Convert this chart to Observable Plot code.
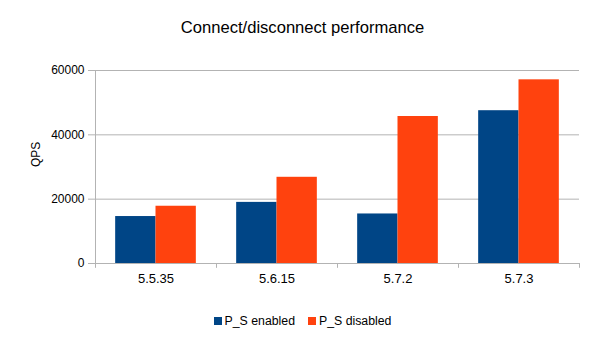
<!DOCTYPE html>
<html><head><meta charset="utf-8">
<script src="https://cdn.jsdelivr.net/npm/d3@7"></script>
<script src="https://cdn.jsdelivr.net/npm/@observablehq/plot@0.6"></script>
<style>
body{margin:0;background:#fff;font-family:"Liberation Sans",Arial,sans-serif;}
#title{width:605px;height:50px;box-sizing:border-box;padding-top:18px;font-size:16.6px;line-height:20px;text-align:center;color:#000;}
#chart{width:605px;height:250px;}
#legend{width:605px;display:flex;justify-content:center;align-items:center;height:14px;margin-top:14px;font-size:12.3px;color:#000;}
#legend .item{display:flex;align-items:center;}
#legend .item + .item{margin-left:13px;}
#legend .sw{width:8px;height:8px;margin-right:3px;}
[aria-label="y-axis tick"]{color:#b3b3b3;}
g[aria-label="y-axis"] .tick line{stroke:#b3b3b3;}
[aria-label="x-axis tick label"]{font-size:13px;}
g[aria-label="x-axis"] .tick text{font-size:13px;}
</style>
</head><body>
<div id="title">Connect/disconnect performance</div>
<div id="chart"></div>
<div id="legend"></div>
<script>
const versions = ["5.5.35", "5.6.15", "5.7.2", "5.7.3"];
const enabled = [14600, 19000, 15400, 47500];
const disabled = [17800, 26800, 45700, 57100];
const seriesNames = ["P_S enabled", "P_S disabled"];
const colors = ["#004586", "#ff420e"];
const yTicks = [0, 20000, 40000, 60000];
const yLabel = "QPS";

const rows = versions.map((v, i) => ({version: v, enabled: enabled[i], disabled: disabled[i]}));
const W = 605, H = 250, ML = 95, MR = 26, MT = 20, MB = 37;
const bw = (W - ML - MR) / versions.length;
const grey = "#b3b3b3";
const tickLen = -1500;

const plot = Plot.plot({
  width: W, height: H,
  marginLeft: ML, marginRight: MR, marginTop: MT, marginBottom: MB,
  style: {fontSize: "12px", fontFamily: "'Liberation Sans', Arial, sans-serif", color: "#000", background: "white", overflow: "visible"},
  x: {domain: versions, padding: 0, tickSize: 0, tickPadding: 10, label: null},
  y: {domain: [0, 60000], ticks: yTicks, tickFormat: "d", tickSize: 7, tickPadding: 4, label: null},
  marks: [
    Plot.ruleY(yTicks, {stroke: grey}),
    Plot.ruleX(versions, {x: d => d, dx: -bw / 2, y1: 0, y2: tickLen, stroke: grey}),
    Plot.ruleX([versions[versions.length - 1]], {x: d => d, dx: bw / 2, y1: 0, y2: tickLen, stroke: grey}),
    Plot.ruleX([versions[0]], {x: d => d, dx: -bw / 2, y1: 0, y2: 60000, stroke: grey}),
    Plot.barY(rows, {x: "version", y: "enabled", fill: colors[0], insetLeft: bw / 6, insetRight: bw / 2}),
    Plot.barY(rows, {x: "version", y: "disabled", fill: colors[1], insetLeft: bw / 2, insetRight: bw / 6}),
    Plot.text([yLabel], {text: d => d, frameAnchor: "left", dx: -59, rotate: -90, fontSize: 12})
  ]
});
document.getElementById("chart").appendChild(plot);

const legend = document.getElementById("legend");
seriesNames.forEach((name, i) => {
  const item = document.createElement("div");
  item.className = "item";
  const sw = document.createElement("div");
  sw.className = "sw";
  sw.style.background = colors[i];
  const t = document.createElement("span");
  t.textContent = name;
  item.appendChild(sw);
  item.appendChild(t);
  legend.appendChild(item);
});
</script>
</body></html>
